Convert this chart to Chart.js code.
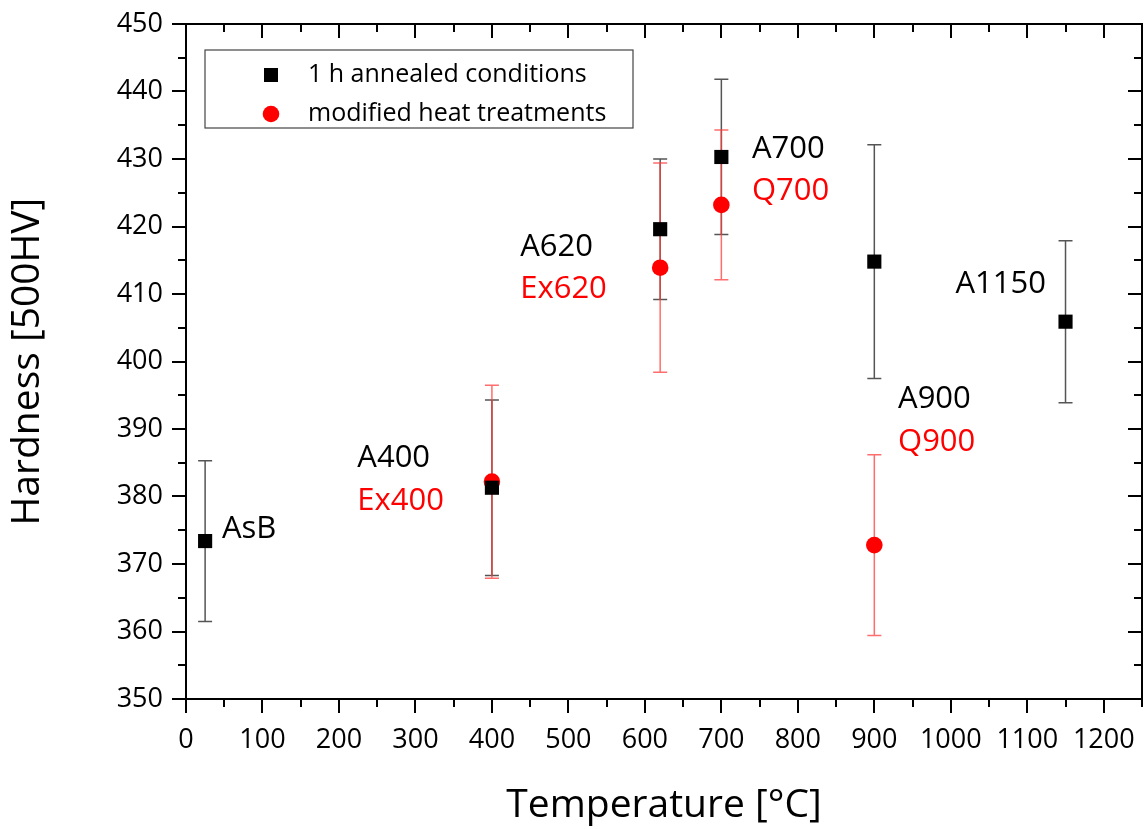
<!DOCTYPE html>
<html lang="en">
<head>
    <meta charset="UTF-8">
    <title>Hardness vs Temperature</title>
    <script src="https://cdn.jsdelivr.net/npm/chart.js"></script>
    <style>
        html, body { margin: 0; padding: 0; background: #fff; }
        #wrap { width: 1144px; height: 829px; overflow: hidden; }
        canvas { display: block; }
    </style>
</head>
<body>
    <div id="wrap"><canvas id="hardnessChart" width="1144" height="829"></canvas></div>
    <script>
        // 1 h annealed conditions
        const annealedTemp = [25, 400, 620, 700, 900, 1150];
        const annealedHV = [373.4, 381.3, 419.6, 430.3, 414.8, 405.9];
        const annealedErr = [11.9, 13.0, 10.4, 11.5, 17.3, 12.0];

        // modified heat treatments
        const modifiedTemp = [400, 620, 700, 900];
        const modifiedHV = [382.2, 413.9, 423.2, 372.8];
        const modifiedErr = [14.3, 15.5, 11.1, 13.4];

        // axis ticks
        const xTicks = [0, 100, 200, 300, 400, 500, 600, 700, 800, 900, 1000, 1100, 1200];
        const yTicks = [350, 360, 370, 380, 390, 400, 410, 420, 430, 440, 450];

        // sample names (text, x, y of the label's left baseline in data units)
        const noteText = ["AsB", "A400", "Ex400", "A620", "Ex620", "A700", "Q700", "A900", "Q900", "A1150"];
        const noteX = [47, 224, 224, 437, 437, 740, 740, 931, 931, 1006];
        const noteY = [373.9, 384.4, 378.0, 415.6, 409.4, 430.1, 423.9, 393.1, 386.7, 410.1];
        const noteRed = [false, false, true, false, true, false, true, false, true, false];

        const FONT = "'Open Sans', Lato, sans-serif";

        const annealedPts = annealedTemp.map((t, i) => ({ x: t, y: annealedHV[i] }));
        const modifiedPts = modifiedTemp.map((t, i) => ({ x: t, y: modifiedHV[i] }));

        // error bars, drawn before the markers
        const errorBars = {
            id: "errorBars",
            beforeDatasetsDraw(chart) {
                const { ctx, scales: { x, y } } = chart;
                const sets = [
                    [annealedTemp, annealedHV, annealedErr, "#555"],
                    [modifiedTemp, modifiedHV, modifiedErr, "rgba(255,60,60,0.75)"]
                ];
                ctx.save();
                ctx.lineWidth = 1.5;
                sets.forEach(([xs, ys, es, col]) => {
                    ctx.strokeStyle = col;
                    xs.forEach((t, i) => {
                        const px = x.getPixelForValue(t);
                        const top = y.getPixelForValue(ys[i] + es[i]);
                        const bot = y.getPixelForValue(ys[i] - es[i]);
                        ctx.beginPath();
                        ctx.moveTo(px, top); ctx.lineTo(px, bot);
                        ctx.moveTo(px - 7, top); ctx.lineTo(px + 7, top);
                        ctx.moveTo(px - 7, bot); ctx.lineTo(px + 7, bot);
                        ctx.stroke();
                    });
                });
                ctx.restore();
            }
        };

        // frame with major/minor ticks (out on bottom/left, in on top/right)
        const frame = {
            id: "frame",
            afterDraw(chart) {
                const { ctx, chartArea: a, scales: { x, y } } = chart;
                ctx.save();
                ctx.strokeStyle = "#000";
                ctx.lineWidth = 2;
                ctx.strokeRect(a.left, a.top, a.right - a.left, a.bottom - a.top);
                ctx.beginPath();
                for (let v = x.min; v <= x.max; v += 50) {
                    const px = Math.round(x.getPixelForValue(v));
                    const len = v % 100 === 0 ? 14 : 8;
                    ctx.moveTo(px, a.bottom); ctx.lineTo(px, a.bottom + len);
                    ctx.moveTo(px, a.top); ctx.lineTo(px, a.top + len);
                }
                for (let v = y.min; v <= y.max; v += 5) {
                    const py = Math.round(y.getPixelForValue(v));
                    const len = v % 10 === 0 ? 14 : 8;
                    ctx.moveTo(a.left, py); ctx.lineTo(a.left - len, py);
                    ctx.moveTo(a.right, py); ctx.lineTo(a.right - len, py);
                }
                ctx.stroke();

                // sample labels
                ctx.font = "31px " + FONT;
                ctx.textAlign = "left";
                ctx.textBaseline = "alphabetic";
                noteText.forEach((t, i) => {
                    ctx.fillStyle = noteRed[i] ? "#ff0000" : "#000";
                    ctx.fillText(t, x.getPixelForValue(noteX[i]), y.getPixelForValue(noteY[i]));
                });

                // legend box
                const lx = a.left + 19, ly = a.top + 26;
                ctx.lineWidth = 1.2;
                ctx.strokeStyle = "#444";
                ctx.strokeRect(lx, ly, 428, 78);
                ctx.fillStyle = "#000";
                ctx.fillRect(lx + 59, ly + 18, 14, 14);
                ctx.fillStyle = "#ff0000";
                ctx.beginPath();
                ctx.arc(lx + 66, ly + 64, 8.3, 0, Math.PI * 2);
                ctx.fill();
                ctx.fillStyle = "#000";
                ctx.font = "25px " + FONT;
                ctx.textBaseline = "middle";
                ctx.fillText(chart.data.datasets[0].label, lx + 103, ly + 25);
                ctx.fillText(chart.data.datasets[1].label, lx + 103, ly + 64);
                ctx.restore();
            }
        };

        new Chart(document.getElementById("hardnessChart"), {
            type: "scatter",
            data: {
                datasets: [
                    {
                        label: "1 h annealed conditions",
                        data: annealedPts,
                        pointStyle: "rect",
                        pointRadius: 10,
                        pointHoverRadius: 10,
                        backgroundColor: "#000",
                        borderWidth: 0
                    },
                    {
                        label: "modified heat treatments",
                        data: modifiedPts,
                        pointStyle: "circle",
                        pointRadius: 8.3,
                        pointHoverRadius: 8.3,
                        backgroundColor: "#ff0000",
                        borderWidth: 0
                    }
                ]
            },
            options: {
                responsive: false,
                animation: false,
                layout: { autoPadding: false, padding: { top: 24, right: 2, left: 0, bottom: 0 } },
                plugins: {
                    legend: { display: false },
                    tooltip: { enabled: false }
                },
                scales: {
                    x: {
                        type: "linear",
                        min: 0,
                        max: 1250,
                        // grid hidden; tickLength only spaces the labels, ticks drawn by the frame plugin
                        grid: { display: false, tickLength: 25 },
                        border: { display: false },
                        afterFit(s) { s.height = 130; s.paddingLeft = 0; s.paddingRight = 0; },
                        afterBuildTicks(s) { s.ticks = xTicks.map(v => ({ value: v })); },
                        ticks: {
                            padding: 0,
                            color: "#000",
                            font: { family: FONT, size: 27 },
                            maxRotation: 0,
                            autoSkip: false,
                            callback: v => String(v)
                        },
                        title: {
                            display: true,
                            text: "Temperature [°C]",
                            color: "#000",
                            font: { family: FONT, size: 39 },
                            padding: { bottom: 0, top: 0 }
                        }
                    },
                    y: {
                        min: 350,
                        max: 450,
                        grid: { display: false, tickLength: 23 },
                        border: { display: false },
                        afterFit(s) { s.width = 186; s.paddingTop = 0; s.paddingBottom = 0; },
                        afterBuildTicks(s) { s.ticks = yTicks.map(v => ({ value: v })); },
                        ticks: {
                            padding: 0,
                            color: "#000",
                            font: { family: FONT, size: 27 },
                            callback: v => String(v)
                        },
                        title: {
                            display: true,
                            text: "Hardness [500HV]",
                            color: "#000",
                            font: { family: FONT, size: 39 },
                            padding: { top: 4, bottom: 0 }
                        }
                    }
                }
            },
            plugins: [errorBars, frame]
        });
    </script>
</body>
</html>
